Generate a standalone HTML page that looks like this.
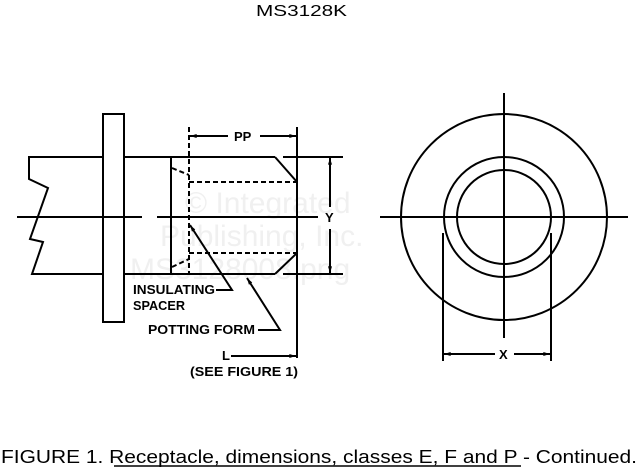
<!DOCTYPE html>
<html><head><style>body{margin:0;background:#fff}svg{display:block}</style></head><body>
<svg width="641" height="470" viewBox="0 0 641 470" xmlns="http://www.w3.org/2000/svg" font-family="Liberation Sans, Arial, sans-serif">
<defs>
<marker id="a" viewBox="0 0 10 6" refX="10" refY="3" markerWidth="8" markerHeight="4" orient="auto-start-reverse" markerUnits="userSpaceOnUse"><path d="M0,0 L10,3 L0,6z" fill="#000"/></marker>
</defs>
<g font-size="30" fill="#f0f0f0">
<text x="185" y="213">© Integrated</text>
<text x="160" y="246">Publishing, Inc.</text>
<text x="130" y="279">MS3128008.png</text>
</g>
<text x="256" y="16" font-size="16" textLength="91" lengthAdjust="spacingAndGlyphs">MS3128K</text>
<g stroke="#000" stroke-width="2" fill="none">
<rect x="103" y="114" width="21" height="208" fill="#fff"/>
<polyline points="103,157 29,157 29,179 48,188 30,239 43,242 32,274 103,274"/>
<line x1="124" y1="157" x2="275" y2="157"/>
<line x1="124" y1="274" x2="275" y2="274"/>
<line x1="171" y1="157" x2="171" y2="274"/>
<polyline points="275,157 297,182 297,253 275,274"/>
<line x1="17" y1="217" x2="142" y2="217"/>
<line x1="157" y1="217" x2="318" y2="217"/>
<g stroke-dasharray="5,3">
<line x1="189" y1="127" x2="189" y2="274"/>
<line x1="189" y1="182" x2="297" y2="182"/>
<line x1="189" y1="253" x2="297" y2="253"/>
<line x1="172" y1="168" x2="189" y2="175"/>
<line x1="172" y1="267" x2="189" y2="259"/>
</g>
<line x1="297" y1="127" x2="297" y2="358"/>
<line x1="283" y1="157" x2="343" y2="157"/>
<line x1="283" y1="274" x2="343" y2="274"/>
<line x1="330" y1="207" x2="330" y2="158" marker-end="url(#a)"/>
<line x1="330" y1="229" x2="330" y2="273" marker-end="url(#a)"/>
<line x1="228" y1="136" x2="190" y2="136" marker-end="url(#a)"/>
<line x1="260" y1="136" x2="296" y2="136" marker-end="url(#a)"/>
<polyline points="216,290 232,290 190,225" marker-end="url(#a)"/>
<polyline points="258,330 280,330 247,278" marker-end="url(#a)"/>
<line x1="231" y1="356" x2="296" y2="356" marker-end="url(#a)"/>
<circle cx="504" cy="217" r="103"/>
<circle cx="504" cy="217" r="60"/>
<circle cx="504" cy="217" r="47"/>
<line x1="504" y1="93" x2="504" y2="338"/>
<line x1="380" y1="217" x2="628" y2="217"/>
<line x1="443" y1="233" x2="443" y2="361"/>
<line x1="551" y1="233" x2="551" y2="361"/>
<line x1="495" y1="354" x2="444" y2="354" marker-end="url(#a)"/>
<line x1="514" y1="354" x2="550" y2="354" marker-end="url(#a)"/>
</g>
<g font-size="13" font-weight="bold">
<text x="234" y="141">PP</text>
<text x="325" y="222">Y</text>
<text x="499" y="359">X</text>
<text x="133" y="294" textLength="82" lengthAdjust="spacingAndGlyphs">INSULATING</text>
<text x="133" y="310" textLength="52" lengthAdjust="spacingAndGlyphs">SPACER</text>
<text x="148" y="334" textLength="107" lengthAdjust="spacingAndGlyphs">POTTING FORM</text>
<text x="222" y="360">L</text>
<text x="190" y="376" textLength="108" lengthAdjust="spacingAndGlyphs">(SEE FIGURE 1)</text>
</g>
<text x="1" y="463" font-size="18" textLength="636" lengthAdjust="spacingAndGlyphs">FIGURE 1.  Receptacle, dimensions, classes E, F and P - Continued.</text>
<line x1="114" y1="466" x2="521" y2="466" stroke="#000" stroke-width="1.5"/>
</svg>
</body></html>
